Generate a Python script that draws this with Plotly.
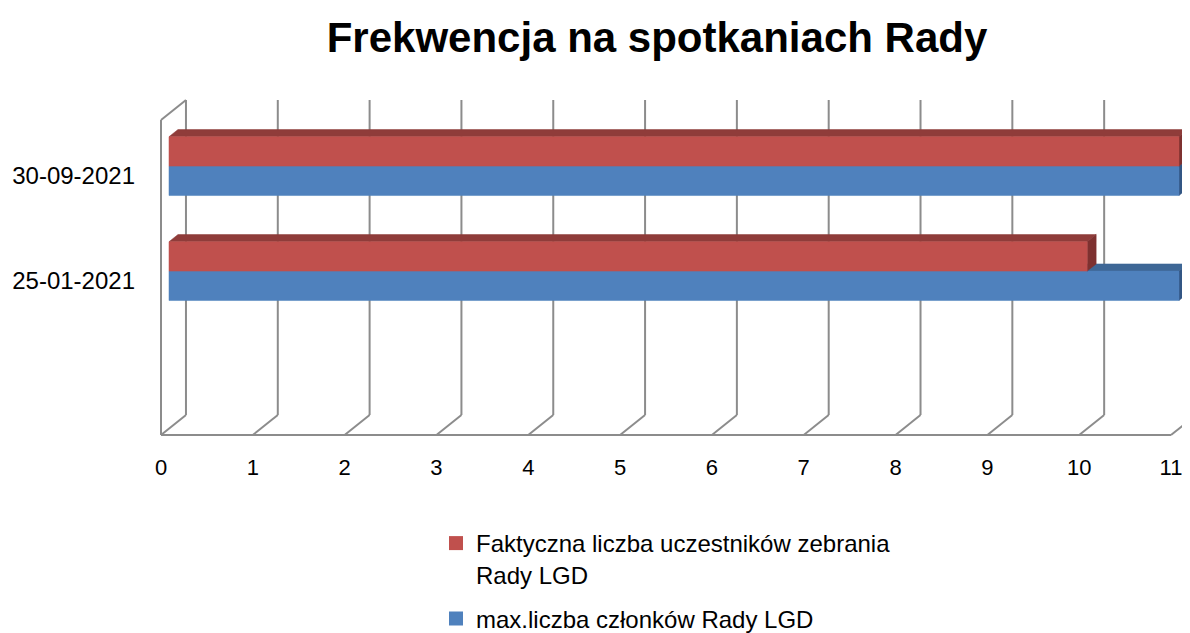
import plotly.graph_objects as go

# ---- data ----
categories = ["", "25-01-2021", "30-09-2021"]          # bottom category is empty in the original
faktyczna = [None, 10, 11]                             # Faktyczna liczba uczestników zebrania Rady LGD
maks = [None, 11, 11]                                  # max.liczba członków Rady LGD
x_ticks = list(range(0, 12))
series_names = ["Faktyczna liczba uczestników zebrania<br>Rady LGD", "max.liczba członków Rady LGD"]

# ---- style ----
RED = dict(front="#C0504D", top="#8F3C3A", side="#7E3130")
BLUE = dict(front="#4F81BD", top="#3E6796", side="#335684")
GRID = "#8C8C8C"
FONT = "Liberation Sans"

# 3-D look: depth offset of the back wall in data units
DX, DY = 0.272, 0.19
D0, D1 = 0.32, 0.68       # bar depth span (fraction of wall depth)
BAR_H = 0.28              # bar thickness in category units
XMAX = 11

fig = go.Figure()

def seg(x0, y0, x1, y1):
    fig.add_trace(go.Scatter(x=[x0, x1], y=[y0, y1], mode="lines",
                             line=dict(color=GRID, width=2), hoverinfo="skip", showlegend=False))

ylo, yhi = -0.5, len(categories) - 0.5
for k in x_ticks:
    seg(k + DX, ylo + DY, k + DX, yhi + DY)
    seg(k, ylo, k + DX, ylo + DY)
seg(0, ylo, XMAX, ylo)
seg(0, ylo, 0, yhi)
seg(0, yhi, DX, yhi + DY)

def poly(xs, ys, color):
    fig.add_trace(go.Scatter(x=xs + [xs[0]], y=ys + [ys[0]], mode="lines", fill="toself",
                             fillcolor=color, line=dict(color=color, width=0.5),
                             hoverinfo="skip", showlegend=False))

def bar3d(val, yb, yt, col):
    fx0, fy0 = D0 * DX, D0 * DY
    bx, by = (D1 - D0) * DX, (D1 - D0) * DY
    x0, x1 = fx0, val + fx0
    b, t = yb + fy0, yt + fy0
    poly([x0, x1, x1 + bx, x0 + bx], [t, t, t + by, t + by], col["top"])
    poly([x1, x1 + bx, x1 + bx, x1], [b, b + by, t + by, t], col["side"])
    poly([x0, x1, x1, x0], [b, b, t, t], col["front"])

for i, cat in enumerate(categories):
    if maks[i] is not None:
        bar3d(maks[i], i - BAR_H, i, BLUE)
    if faktyczna[i] is not None:
        bar3d(faktyczna[i], i, i + BAR_H, RED)

fig.add_trace(go.Scatter(x=[None], y=[None], mode="markers", name=series_names[0], legendgroup="a",
                         marker=dict(symbol="square", size=14, color=RED["front"])))
fig.add_trace(go.Scatter(x=[None], y=[None], mode="markers", name=series_names[1], legendgroup="b",
                         marker=dict(symbol="square", size=14, color=BLUE["front"])))

# page has an 8px body margin; figure coordinates = page coordinates - 8
OFF = 8
W, H = 1190 - OFF, 633 - OFF
X0PX, XMPX = 161 - OFF, 1171 - OFF     # value 0 and value 11 on the front plane
FLOOR = 435 - OFF                       # front floor edge
L, T = 150 - OFF, 90 - OFF
PB = 440 - OFF                          # plot area bottom
R, B = 0, H - PB
pxu = (XMPX - X0PX) / XMAX
xr = [(L - X0PX) / pxu, (W - R - X0PX) / pxu]
cu = 105
yr = [-0.5 - (PB - FLOOR) / cu, -0.5 + (FLOOR - T) / cu]
PH = PB - T
PW = W - L - R

fig.update_layout(
    width=W, height=H, autosize=False,
    margin=dict(l=L, r=R, t=T, b=B, autoexpand=False),
    plot_bgcolor="white", paper_bgcolor="white",
    title=dict(text="<b>Frekwencja na spotkaniach Rady</b>", x=(657 - OFF) / W, xref="container",
               y=1 - (37 - OFF) / H, yanchor="middle", xanchor="center",
               font=dict(family=FONT, size=42, color="black")),
    xaxis=dict(range=xr, showgrid=False, zeroline=False, showline=False, automargin=False,
               tickvals=x_ticks, ticktext=[str(v) for v in x_ticks], ticks="",
               ticklabelstandoff=12, tickfont=dict(family=FONT, size=22, color="black"), fixedrange=True),
    yaxis=dict(range=yr, showgrid=False, zeroline=False, showline=False, automargin=False,
               tickvals=[i - 0.03 for i in range(1, len(categories))], ticktext=categories[1:], ticks="",
               ticklabelstandoff=14, tickfont=dict(family=FONT, size=24, color="black"), fixedrange=True),
    legend=dict(x=(436 - OFF - L) / PW, y=(PB - (521 - OFF)) / PH, xanchor="left", yanchor="top",
                font=dict(family=FONT, size=24, color="black"), valign="top", tracegroupgap=10,
                bgcolor="rgba(0,0,0,0)"),
    showlegend=True,
)

fig.write_html("out.html")
